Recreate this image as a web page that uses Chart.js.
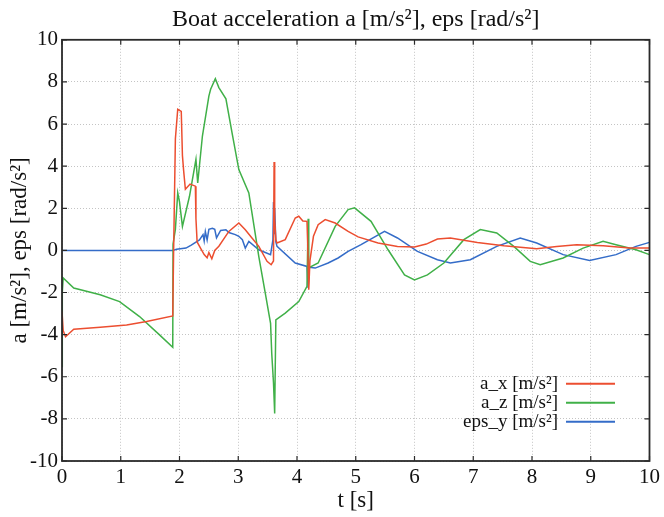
<!DOCTYPE html>
<html>
<head>
<meta charset="utf-8">
<title>Boat acceleration</title>
<script src="https://cdn.jsdelivr.net/npm/chart.js@4.4.1/dist/chart.umd.min.js"></script>
<style>
  html, body { margin: 0; padding: 0; background: #fff; }
  #wrap { width: 664px; height: 517px; position: relative; }
</style>
</head>
<body>
<div id="wrap"><canvas id="accChart"></canvas></div>
<script>
// values
const X_TICKS = [0, 1, 2, 3, 4, 5, 6, 7, 8, 9, 10];
const Y_TICKS = [-10, -8, -6, -4, -2, 0, 2, 4, 6, 8, 10];

const tAx = [0, 0.02, 0.06, 0.2, 0.65, 1.1, 1.44, 1.885, 1.9, 1.93, 1.97, 2.03, 2.05, 2.07, 2.1, 2.18, 2.27, 2.28,
  2.3, 2.36, 2.42, 2.47, 2.5, 2.55, 2.6, 2.67, 2.84, 3.01, 3.12, 3.23, 3.35, 3.49, 3.56, 3.6, 3.61, 3.62, 3.64,
  3.66, 3.8, 3.97, 4.03, 4.1, 4.17, 4.18, 4.2, 4.22, 4.28, 4.36, 4.48, 4.65, 4.87, 5.04, 5.38, 5.71, 6.0, 6.2,
  6.39, 6.61, 7.07, 7.52, 8.08, 8.42, 8.76, 9.21, 9.66, 10];
const aX = [-2.9, -3.8, -4.1, -3.74, -3.65, -3.54, -3.38, -3.11, 0, 5.3, 6.7, 6.6, 4.5, 3.8, 2.9, 3.15, 3.05, 1.5,
  0.4, 0.1, -0.2, -0.35, -0.1, -0.4, 0.0, 0.2, 0.9, 1.3, 0.98, 0.6, 0.19, -0.52, -0.68, -0.5, 4.2, 1.5, 0.5,
  0.35, 0.51, 1.54, 1.62, 1.4, 1.38, 0.5, -1.87, -0.5, 0.67, 1.22, 1.46, 1.3, 0.9, 0.64, 0.35, 0.19, 0.16, 0.3,
  0.54, 0.59, 0.38, 0.22, 0.08, 0.19, 0.27, 0.22, 0.11, 0.11];

const tAz = [0, 0.005, 0.02, 0.2, 0.65, 0.98, 1.32, 1.66, 1.885, 1.89, 1.93, 1.97, 2.0, 2.05, 2.17, 2.28, 2.31,
  2.39, 2.5, 2.53, 2.61, 2.67, 2.79, 2.9, 3.01, 3.18, 3.35, 3.46, 3.55, 3.57, 3.6, 3.62, 3.64, 3.8, 4.03, 4.17,
  4.19, 4.2, 4.22, 4.36, 4.65, 4.87, 4.98, 5.26, 5.55, 5.83, 6.0, 6.22, 6.5, 6.84, 7.12, 7.4, 7.69, 7.97, 8.14,
  8.53, 8.87, 9.21, 9.43, 9.77, 10];
const aZ = [-5.5, -2.0, -1.31, -1.79, -2.11, -2.43, -3.14, -4.01, -4.6, 0.3, 1.0, 2.73, 2.3, 1.14, 2.57, 4.32, 3.2,
  5.43, 7.33, 7.65, 8.15, 7.73, 7.2, 5.5, 3.84, 2.73, -0.3, -2.03, -3.46, -4.89, -6.3, -7.74, -3.3, -2.98, -2.43,
  -1.71, 1.5, -0.76, -0.8, -0.6, 1.14, 1.94, 2.02, 1.38, 0.03, -1.16, -1.4, -1.16, -0.6, 0.51, 0.99, 0.83, 0.19,
  -0.52, -0.68, -0.36, 0.11, 0.43, 0.27, 0.03, -0.2];

const tEps = [0, 1.885, 1.95, 2.11, 2.2, 2.34, 2.4, 2.42, 2.44, 2.47, 2.5, 2.56, 2.6, 2.63, 2.7, 2.79, 2.84, 2.95,
  3.01, 3.07, 3.12, 3.18, 3.35, 3.55, 3.59, 3.6, 3.61, 3.62, 3.64, 3.66, 3.97, 4.17, 4.19, 4.21, 4.31, 4.53, 4.7,
  4.87, 5.09, 5.49, 5.71, 6.05, 6.39, 6.61, 6.95, 7.4, 7.8, 8.08, 8.53, 8.98, 9.43, 9.77, 10];
const epsY = [0, 0, 0.05, 0.11, 0.25, 0.5, 0.75, 0.45, 0.9, 0.5, 1.0, 1.05, 1.0, 0.6, 0.95, 0.98, 0.85, 0.75,
  0.67, 0.51, 0.11, 0.43, 0.03, -0.2, 0.5, 2.3, 0.8, 2.0, 0.4, 0.19, -0.6, -0.76, -1.78, -0.8, -0.84, -0.6, -0.36,
  -0.05, 0.27, 0.9, 0.59, -0.05, -0.44, -0.6, -0.44, 0.19, 0.59, 0.35, -0.2, -0.48, -0.2, 0.19, 0.38];

const SERIF = '"Liberation Serif", "DejaVu Serif", serif';

function toPoints(ts, vs) {
  return ts.map((t, i) => ({ x: t, y: vs[i] }));
}

// frame, inward tick marks and the legend inside the plot (text left of the line)
const framePlugin = {
  id: 'frame',
  afterDatasetsDraw(chart) {
    const { ctx, chartArea: a, scales } = chart;
    ctx.save();
    ctx.strokeStyle = '#2a2a2a';
    ctx.lineWidth = 1.8;
    ctx.strokeRect(a.left, a.top, a.right - a.left, a.bottom - a.top);
    ctx.lineWidth = 1.2;
    ctx.beginPath();
    X_TICKS.forEach(v => {
      const px = scales.x.getPixelForValue(v);
      ctx.moveTo(px, a.bottom); ctx.lineTo(px, a.bottom - 5);
      ctx.moveTo(px, a.top); ctx.lineTo(px, a.top + 5);
    });
    Y_TICKS.forEach(v => {
      const py = scales.y.getPixelForValue(v);
      ctx.moveTo(a.left, py); ctx.lineTo(a.left + 5, py);
      ctx.moveTo(a.right, py); ctx.lineTo(a.right - 5, py);
    });
    ctx.stroke();

    // legend
    ctx.font = '19px ' + SERIF;
    ctx.textAlign = 'right';
    ctx.textBaseline = 'middle';
    chart.data.datasets.forEach((ds, i) => {
      const y = a.top + 344 + i * 19;
      ctx.fillStyle = '#111';
      ctx.fillText(ds.label, a.left + 496, y);
      ctx.strokeStyle = ds.borderColor;
      ctx.lineWidth = 2;
      ctx.beginPath();
      ctx.moveTo(a.left + 504, y);
      ctx.lineTo(a.left + 553, y);
      ctx.stroke();
    });
    ctx.restore();
  }
};

function initChart() {
  const ctx = document.getElementById('accChart').getContext('2d');
  new Chart(ctx, {
    type: 'line',
    data: {
      datasets: [
        { label: 'a_x [m/s²]', data: toPoints(tAx, aX), borderColor: 'rgb(236,78,48)' },
        { label: 'a_z [m/s²]', data: toPoints(tAz, aZ), borderColor: 'rgb(64,176,72)' },
        { label: 'eps_y [m/s²]', data: toPoints(tEps, epsY), borderColor: 'rgb(52,108,200)' }
      ]
    },
    options: {
      responsive: true,
      maintainAspectRatio: false,
      animation: false,
      layout: { padding: { left: 0, right: 6, top: 0, bottom: 0 } },
      elements: {
        line: { borderWidth: 1.5, tension: 0, fill: false },
        point: { radius: 0 }
      },
      plugins: {
        legend: { display: false },
        tooltip: { enabled: false },
        title: {
          display: true,
          fullSize: false,
          text: 'Boat acceleration a [m/s²], eps [rad/s²]',
          color: '#111',
          font: { family: SERIF, size: 24, weight: 'normal' },
          padding: { top: 5, bottom: 6 }
        }
      },
      scales: {
        x: {
          type: 'linear',
          min: 0, max: 10,
          afterBuildTicks: s => { s.ticks = X_TICKS.map(v => ({ value: v })); },
          afterFit: s => { s.height = 56; },
          ticks: { color: '#111', font: { family: SERIF, size: 21 }, padding: 4, maxRotation: 0 },
          grid: { color: '#c4c4c4', lineWidth: 1, drawTicks: false },
          border: { display: false, dash: [1, 2] },
          title: { display: true, text: 't [s]', color: '#111', font: { family: SERIF, size: 23 }, padding: { top: 0, bottom: 2 } }
        },
        y: {
          min: -10, max: 10,
          afterBuildTicks: s => { s.ticks = Y_TICKS.map(v => ({ value: v })); },
          afterFit: s => { s.width = 62; },
          ticks: { color: '#111', font: { family: SERIF, size: 21 }, padding: 4 },
          grid: { color: '#c4c4c4', lineWidth: 1, drawTicks: false },
          border: { display: false, dash: [1, 2] },
          title: { display: true, text: 'a [m/s²], eps [rad/s²]', color: '#111', font: { family: SERIF, size: 23 }, padding: { top: 6, bottom: 0 } }
        }
      }
    },
    plugins: [framePlugin]
  });
}

if (document.readyState === 'loading') {
  document.addEventListener('DOMContentLoaded', initChart);
} else {
  initChart();
}
</script>
</body>
</html>
